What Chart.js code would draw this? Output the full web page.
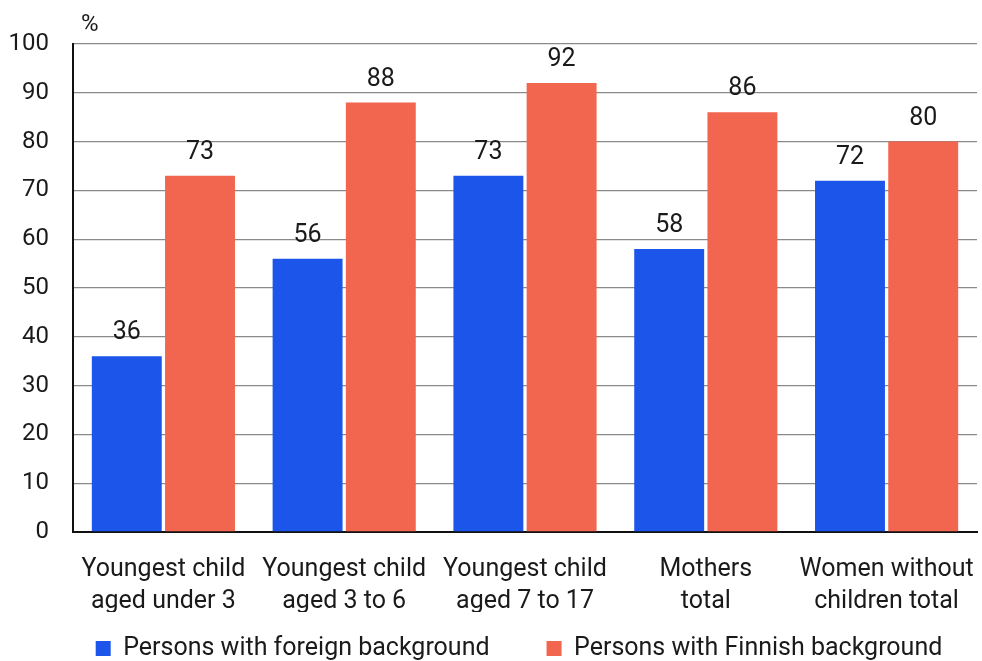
<!DOCTYPE html>
<html><head><meta charset="utf-8">
<script src="https://cdn.jsdelivr.net/npm/chart.js@4"></script>
<style>html,body{margin:0;padding:0;background:#fff}#wrap{width:982px;height:661px}</style>
</head><body><div id="wrap"><canvas id="c" width="982" height="661"></canvas></div>
<script>
const categories = [["Youngest child","aged under 3"],["Youngest child","aged 3 to 6"],["Youngest child","aged 7 to 17"],["Mothers","total"],["Women without","children total"]];
const foreign = [36,56,73,58,72];
const finnish = [73,88,92,86,80];
const seriesNames = ["Persons with foreign background","Persons with Finnish background"];
const yTicks = [0,10,20,30,40,50,60,70,80,90,100];
const unitLabel = "%";
const FONT = "Roboto, 'Liberation Sans', sans-serif";
const LEGEND_PAD = 57;

const valueLabels = {
  id:'valueLabels',
  afterLayout(chart){
    const lg = chart.legend;
    if (lg) {
      const dy = (lg.top + LEGEND_PAD) - 636;
      const dx = ((chart.chartArea.left + chart.chartArea.right) / 2) - ((lg.left + lg.right) / 2) - 6;
      lg.top -= dy; lg.bottom -= dy;
      lg.left += dx; lg.right += dx;
    }
  },
  afterDatasetsDraw(chart){
    const ctx = chart.ctx;
    ctx.save();
    ctx.font = "25px " + FONT;
    ctx.fillStyle = "#1a1a1a";
    ctx.textAlign = "center";
    ctx.textBaseline = "alphabetic";
    chart.data.datasets.forEach((ds,i)=>{
      chart.getDatasetMeta(i).data.forEach((bar,j)=>{
        ctx.fillText(String(ds.data[j]), bar.x, bar.y - 17);
      });
    });
    const a = chart.chartArea;
    ctx.font = "24px " + FONT;
    ctx.textAlign = "left";
    ctx.fillText(unitLabel, a.left + 8, a.top - 13);
    ctx.restore();
  }
};

new Chart(document.getElementById('c'), {
  type:'bar',
  data:{
    labels: categories,
    datasets:[
      {label: seriesNames[0], data: foreign, backgroundColor:'#1c55e9', borderWidth:0},
      {label: seriesNames[1], data: finnish, backgroundColor:'#f2654f', borderWidth:0}
    ]
  },
  options:{
    responsive:false,
    animation:false,
    devicePixelRatio:1,
    layout:{padding:{top:44,right:5,left:0,bottom:-43}},
    datasets:{bar:{categoryPercentage:0.81, barPercentage:0.955}},
    scales:{
      x:{
        grid:{display:false, drawTicks:false},
        border:{color:'#111', width:2},
        ticks:{color:'#1a1a1a', font:{family:FONT, size:25, lineHeight:1.28}, padding:22, maxRotation:0, autoSkip:false},
        afterFit(axis){ axis.height = 80; axis.paddingLeft = 0; axis.paddingRight = 0; }
      },
      y:{
        min:0, max:100,
        afterBuildTicks(axis){ axis.ticks = yTicks.map(v=>({value:v})); },
        grid:{color:'#8a8a8a', lineWidth:1.3, drawTicks:false},
        border:{color:'#111', width:2},
        ticks:{color:'#1a1a1a', font:{family:FONT, size:24}, padding:24},
        afterFit(axis){ axis.width = 73; }
      }
    },
    plugins:{
      legend:{position:'bottom', labels:{color:'#1a1a1a', font:{family:FONT, size:25}, boxWidth:15, boxHeight:15, padding:LEGEND_PAD, useBorderRadius:false}},
      tooltip:{enabled:false}
    }
  },
  plugins:[valueLabels]
});
</script></body></html>
